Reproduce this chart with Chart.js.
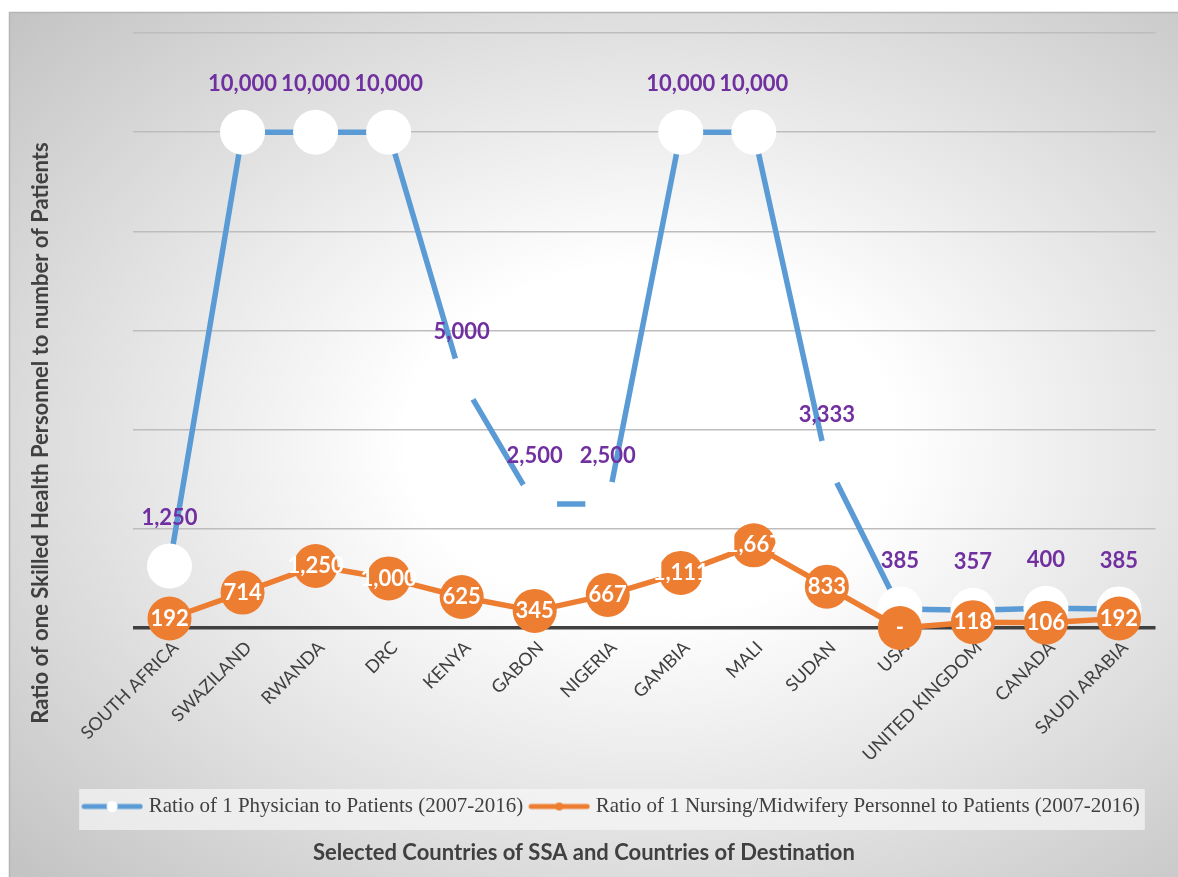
<!DOCTYPE html>
<html>
<head>
<meta charset="utf-8">
<title>Health personnel ratios</title>
<script src="https://cdn.jsdelivr.net/npm/chart.js@4.4.1/dist/chart.umd.min.js"></script>
<style>
  html, body { margin: 0; padding: 0; background: #fff; }
  #wrap { width: 1178px; height: 877px; }
</style>
</head>
<body>
<div id="wrap"><canvas id="ratioChart" width="1178" height="877"></canvas></div>
<script>
const countries = ['SOUTH AFRICA', 'SWAZILAND', 'RWANDA', 'DRC', 'KENYA', 'GABON', 'NIGERIA',
  'GAMBIA', 'MALI', 'SUDAN', 'USA', 'UNITED KINGDOM', 'CANADA', 'SAUDI ARABIA'];
const physicianRatio = [1250, 10000, 10000, 10000, 5000, 2500, 2500, 10000, 10000, 3333, 385, 357, 400, 385];
const nursingRatio = [192, 714, 1250, 1000, 625, 345, 667, 1111, 1667, 833, 0, 118, 106, 192];
const seriesNames = ['Ratio of 1 Physician to Patients (2007-2016)',
  'Ratio of 1 Nursing/Midwifery Personnel to Patients (2007-2016)'];
const xTitle = 'Selected Countries of SSA and Countries of Destination';
const yTitle = 'Ratio of one Skilled Health Personnel to number of Patients';
const yMax = 12000;
const yStep = 2000;

const BLUE = '#5B9BD5';
const ORANGE = '#ED7D31';
const PURPLE = '#7030A0';
const INK = '#404040';
const SANS = 'Lato, "Open Sans", sans-serif';

// accounting style: zero shows as a dash
function fmt(v) {
  return v === 0 ? '-' : v.toLocaleString('en-US');
}

// small line + marker swatch used as the legend symbol
function legendSample(color, dotFill, dotRadius) {
  const c = document.createElement('canvas');
  c.width = 62;
  c.height = 16;
  const g = c.getContext('2d');
  g.strokeStyle = color;
  g.lineWidth = 5;
  g.lineCap = 'round';
  g.beginPath();
  g.moveTo(3, 8);
  g.lineTo(59, 8);
  g.stroke();
  g.fillStyle = dotFill;
  g.beginPath();
  g.arc(31, 8, dotRadius, 0, Math.PI * 2);
  g.fill();
  return c;
}
const samples = [legendSample(BLUE, '#ffffff', 5.5), legendSample(ORANGE, ORANGE, 4)];

const backdrop = {
  id: 'backdrop',
  beforeDraw(chart) {
    const { ctx, width, height } = chart;
    ctx.save();
    ctx.fillStyle = '#ffffff';
    ctx.fillRect(0, 0, width, height);

    ctx.save();
    ctx.beginPath();
    ctx.rect(9, 12, width - 9, height - 12);
    ctx.clip();
    ctx.translate(650, 440);
    ctx.scale(1.4, 1);
    const g = ctx.createRadialGradient(0, 0, 0, 0, 0, 620);
    g.addColorStop(0, '#ffffff');
    g.addColorStop(0.28, '#ffffff');
    g.addColorStop(1, '#c4c4c4');
    ctx.fillStyle = g;
    ctx.fillRect(-700, -500, 1400, 1000);
    ctx.restore();

    ctx.strokeStyle = '#b5b5b5';
    ctx.lineWidth = 1.5;
    ctx.beginPath();
    ctx.moveTo(9.5, height);
    ctx.lineTo(9.5, 12.5);
    ctx.lineTo(width, 12.5);
    ctx.stroke();

    // panel behind the legend row
    const lg = chart.legend;
    if (lg && lg.lineWidths) {
      const mid = (lg.left + lg.right) / 2;
      const w = lg.lineWidths[0];
      ctx.fillStyle = 'rgba(246,246,246,0.7)';
      ctx.fillRect(mid - w / 2 - 2, lg.top + 3, w + 2, lg.height);
    }
    ctx.restore();
  }
};

const valueLabels = {
  id: 'valueLabels',
  afterDatasetsDraw(chart) {
    const ctx = chart.ctx;
    ctx.save();
    ctx.font = 'bold 22px ' + SANS;
    ctx.textAlign = 'center';
    ctx.textBaseline = 'middle';
    chart.data.datasets.forEach((ds, i) => {
      chart.getDatasetMeta(i).data.forEach((pt, j) => {
        ctx.fillStyle = ds.labelColor;
        ctx.fillText(fmt(ds.data[j]), pt.x, pt.y + ds.labelShift);
      });
    });
    ctx.restore();
  }
};

const axisTitles = {
  id: 'axisTitles',
  afterDraw(chart) {
    const ctx = chart.ctx;
    ctx.save();
    ctx.font = 'bold 22px ' + SANS;
    ctx.fillStyle = INK;
    ctx.textAlign = 'center';
    ctx.textBaseline = 'middle';
    ctx.fillText(xTitle, 584, 853);
    ctx.translate(41, 433);
    ctx.rotate(-Math.PI / 2);
    ctx.fillText(yTitle, 0, 0);
    ctx.restore();
  }
};

new Chart(document.getElementById('ratioChart'), {
  type: 'line',
  data: {
    labels: countries,
    datasets: [{
      label: seriesNames[0],
      data: physicianRatio,
      borderColor: BLUE,
      borderWidth: 5.5,
      borderJoinStyle: 'round',
      pointRadius: 22.5,
      pointHoverRadius: 22.5,
      pointBackgroundColor: '#ffffff',
      pointBorderWidth: 0,
      labelColor: PURPLE,
      labelShift: -48,
      clip: false,
      order: 1
    }, {
      label: seriesNames[1],
      data: nursingRatio,
      borderColor: ORANGE,
      borderWidth: 5.5,
      borderJoinStyle: 'round',
      pointRadius: 22,
      pointHoverRadius: 22,
      pointBackgroundColor: ORANGE,
      pointBorderWidth: 0,
      labelColor: '#ffffff',
      labelShift: 0,
      clip: false,
      order: 0
    }]
  },
  options: {
    responsive: false,
    animation: false,
    events: [],
    layout: { padding: { left: 54, top: 33, right: 6, bottom: 50 } },
    scales: {
      x: {
        offset: true,
        grid: { display: false, drawTicks: false },
        border: { display: false },
        ticks: {
          autoSkip: false,
          minRotation: 45,
          maxRotation: 45,
          padding: 9,
          labelOffset: 6,
          color: INK,
          font: { family: SANS, size: 18 }
        },
        afterFit(scale) { scale.height = 158; }
      },
      y: {
        min: 0,
        max: yMax,
        ticks: { stepSize: yStep, display: false },
        grid: {
          drawTicks: false,
          color: ctx => ctx.tick.value === 0 ? INK : '#bdbdbd',
          lineWidth: ctx => ctx.tick.value === 0 ? 3.5 : 1.5
        },
        border: { display: false },
        afterFit(scale) { scale.width = 79; }
      }
    },
    plugins: {
      tooltip: { enabled: false },
      legend: {
        position: 'bottom',
        onClick: null,
        labels: {
          usePointStyle: true,
          pointStyleWidth: 52,
          padding: 10,
          color: INK,
          font: { family: '"Liberation Serif", "Times New Roman", serif', size: 21 },
          generateLabels: () => seriesNames.map((name, i) => ({
            text: name,
            pointStyle: samples[i],
            fontColor: INK,
            lineWidth: 0,
            hidden: false,
            datasetIndex: i
          }))
        }
      }
    }
  },
  plugins: [backdrop, valueLabels, axisTitles]
});
</script>
</body>
</html>
